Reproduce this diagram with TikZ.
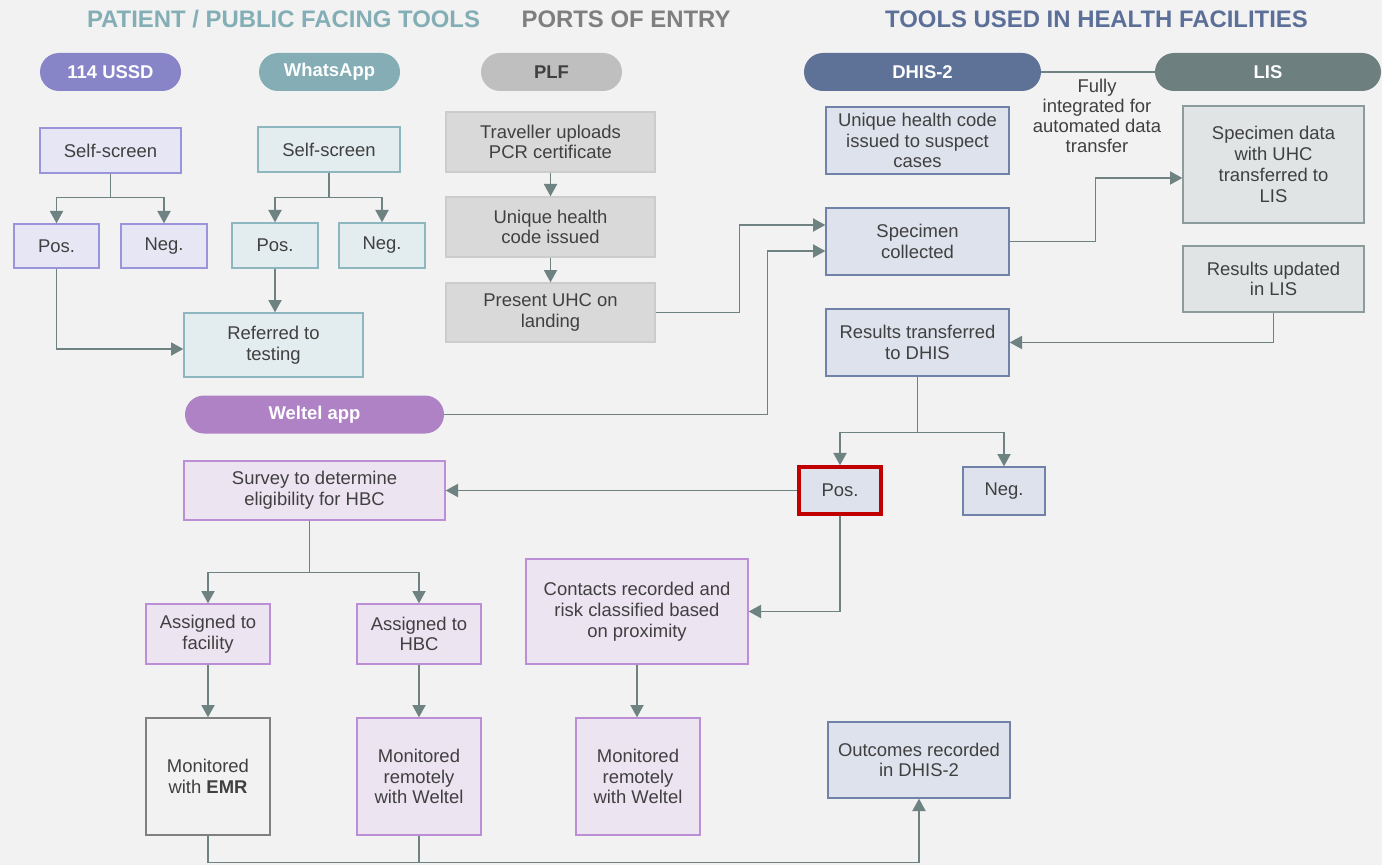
\documentclass[tikz,border=0pt]{standalone}
\usepackage{fontspec}
\setmainfont{Liberation Sans}
\usetikzlibrary{arrows.meta,shapes.misc,calc}
\definecolor{bg}{HTML}{F2F2F2}
\definecolor{txt}{HTML}{404040}
\definecolor{arrc}{HTML}{6E8282}
\definecolor{hA}{HTML}{84AEB5}
\definecolor{hB}{HTML}{7F7F7F}
\definecolor{hC}{HTML}{5B6F98}
\definecolor{pUS}{HTML}{8884C8}
\definecolor{pWA}{HTML}{84ADB5}
\definecolor{pPL}{HTML}{BFBFBF}
\definecolor{pDH}{HTML}{5E7298}
\definecolor{pLI}{HTML}{6E7F80}
\definecolor{pWE}{HTML}{AE82C4}
\definecolor{fUS}{HTML}{E7E6F5}\definecolor{dUS}{HTML}{9A94DA}
\definecolor{fWA}{HTML}{E3EDEF}\definecolor{dWA}{HTML}{8DB6BE}
\definecolor{fPL}{HTML}{D9D9D9}\definecolor{dPL}{HTML}{CCCCCC}
\definecolor{fDH}{HTML}{DEE2EC}\definecolor{dDH}{HTML}{7082A8}
\definecolor{fLI}{HTML}{E0E4E4}\definecolor{dLI}{HTML}{8C9B9B}
\definecolor{fWE}{HTML}{EDE4F2}\definecolor{dWE}{HTML}{BC8ED5}
\definecolor{dEM}{HTML}{808080}
\definecolor{red}{HTML}{C00000}
\begin{document}
\begin{tikzpicture}[x=0.02cm,y=-0.02cm,
  box/.style={draw, line width=0.8pt, align=center, inner sep=2pt, text=txt,
    font=\fontsize{10.5}{11.8}\selectfont},
  sz/.style 2 args={minimum width=#1*0.02cm, minimum height=#2*0.02cm},
  us/.style={box, fill=fUS, draw=dUS},
  wa/.style={box, fill=fWA, draw=dWA},
  pl/.style={box, fill=fPL, draw=dPL},
  dh/.style={box, fill=fDH, draw=dDH},
  li/.style={box, fill=fLI, draw=dLI},
  we/.style={box, fill=fWE, draw=dWE},
  em/.style={box, fill=bg, draw=dEM},
  pill/.style={rounded rectangle, inner sep=0pt, minimum height=38*0.02cm,
    text=white, font=\fontsize{10.5}{12}\bfseries\selectfont},
  head/.style={font=\fontsize{13.6}{15}\bfseries\selectfont, inner sep=0pt},
  ln/.style={draw=arrc, line width=0.8pt},
  arr/.style={ln, -{Triangle[length=7pt,width=7.5pt]}}
]
\fill[bg] (0,0) rectangle (1382,865);
\useasboundingbox (0,0) rectangle (1382,865);

% headings
\node[head, text=hA] (hA) at (283.5,19) {PATIENT / PUBLIC FACING TOOLS};
\node[head, text=hB] (hB) at (626,19) {PORTS OF ENTRY};
\node[head, text=hC] (hC) at (1096.5,19) {TOOLS USED IN HEALTH FACILITIES};

% pills
\node[pill, fill=pUS, minimum width=141*0.02cm] (pus) at (110.5,72) {114 USSD};
\node[pill, fill=pWA, minimum width=141*0.02cm] (pwa) at (329.5,72) {WhatsApp};
\node[pill, fill=pPL, minimum width=141*0.02cm, text=txt] (ppl) at (551.5,72) {PLF};
\node[pill, fill=pDH, minimum width=237*0.02cm] (pdh) at (922.5,72) {DHIS-2};
\node[pill, fill=pLI, minimum width=226*0.02cm] (pli) at (1268,72) {LIS};
\node[pill, fill=pWE, minimum width=259*0.02cm] (pwe) at (314.5,414.5) {Weltel app};
\draw[ln] (pdh.east) -- (pli.west);
\node[align=center, text=txt, font=\fontsize{10.5}{11.4}\selectfont, inner sep=0pt] (fi) at (1097,116)
  {Fully\\integrated for\\automated data\\transfer};

% USSD
\node[us, sz={141}{45}] (uss) at (110.5,150.5) {Self-screen};
\node[us, sz={85}{44}] (usp) at (56.5,246) {Pos.};
\node[us, sz={86}{44}] (usn) at (164,246) {Neg.};
% WhatsApp
\node[wa, sz={142}{45}] (was) at (329,149.5) {Self-screen};
\node[wa, sz={86}{45}] (wap) at (275,245.5) {Pos.};
\node[wa, sz={86}{45}] (wan) at (382,245.5) {Neg.};
\node[wa, sz={179}{64}] (ref) at (273.5,345) {Referred to\\testing};
% PLF
\node[pl, sz={209}{60}] (trav) at (550.5,142) {Traveller uploads\\PCR certificate};
\node[pl, sz={209}{60}] (uhci) at (550.5,227) {Unique health\\code issued};
\node[pl, sz={209}{59}] (uhc) at (550.5,312.5) {Present UHC on\\landing};
% DHIS
\node[dh, sz={183}{67}] (uhs) at (917.5,140.5) {Unique health code\\issued to suspect\\cases};
\node[dh, sz={183}{67}] (spec) at (917.5,241.5) {Specimen\\collected};
\node[dh, sz={183}{67}] (rtd) at (917.5,342.5) {Results transferred\\to DHIS};
\node[box, fill=fDH, draw=red, line width=2pt, sz={82}{47}] (pos) at (840,490.5) {Pos.};
\node[dh, sz={82}{48}] (neg) at (1004,491) {Neg.};
\node[dh, sz={182}{76}] (out) at (919,760) {Outcomes recorded\\in DHIS-2};
% LIS
\node[li, sz={181}{117}] (lisd) at (1273.5,164.5) {Specimen data\\with UHC\\transferred to\\LIS};
\node[li, sz={181}{66}] (lisr) at (1273.5,279) {Results updated\\in LIS};
% Weltel
\node[we, sz={261}{59}] (surv) at (314.5,490.5) {Survey to determine\\eligibility for HBC};
\node[we, sz={124}{60}] (af) at (208,634) {Assigned to\\facility};
\node[we, sz={124}{60}] (ah) at (419,634) {Assigned to\\HBC};
\node[em, sz={124}{117}] (emr) at (208,776.5) {Monitored\\with \textbf{EMR}};
\node[we, sz={124}{117}] (mw1) at (419,776.5) {Monitored\\remotely\\with Weltel};
\node[we, sz={222}{105}] (cont) at (637,611.5) {Contacts recorded and\\risk classified based\\on proximity};
\node[we, sz={124}{117}] (mw2) at (638,776.5) {Monitored\\remotely\\with Weltel};

% connectors USSD / WhatsApp
\draw[arr] (uss.south) -- ++(0,24) -| (usp.north);
\draw[arr] (uss.south) -- ++(0,24) -| (usn.north);
\draw[arr] (was.south) -- ++(0,25) -| (wap.north);
\draw[arr] (was.south) -- ++(0,25) -| (wan.north);
\draw[arr] (usp.south) |- ($(ref.west)+(0,4)$);
\draw[arr] (wap.south) -- (wap.south |- ref.north);
% PLF
\draw[arr] (trav.south) -- (uhci.north);
\draw[arr] (uhci.south) -- (uhc.north);
\draw[arr] (uhc.east) -| ($(spec.west)+(-86,-16.5)$) -- ($(spec.west)+(0,-16.5)$);
\draw[arr] (pwe.east) -| ($(spec.west)+(-58,9.5)$) -- ($(spec.west)+(0,9.5)$);
% DHIS / LIS
\draw[arr] (spec.east) -| ($(lisd.west)+(-87,13.5)$) -- ($(lisd.west)+(0,13.5)$);
\draw[arr] (lisr.south) |- (rtd.east);
\draw[arr] (rtd.south) -- ++(0,56) -| (pos.north);
\draw[arr] (rtd.south) -- ++(0,56) -| (neg.north);
\draw[arr] (pos.west) -- (surv.east);
\draw[arr] (pos.south) |- (cont.east);
% Weltel
\draw[arr] ($(surv.south)+(-5,0)$) -- ++(0,52) -| (af.north);
\draw[arr] ($(surv.south)+(-5,0)$) -- ++(0,52) -| (ah.north);
\draw[arr] (af.south) -- (emr.north);
\draw[arr] (ah.south) -- (mw1.north);
\draw[arr] (cont.south) -- (cont.south |- mw2.north);
\draw[arr] (emr.south) -- ++(0,27) -| (out.south);
\draw[ln] (mw1.south) -- ++(0,27);
\end{tikzpicture}
\end{document}
